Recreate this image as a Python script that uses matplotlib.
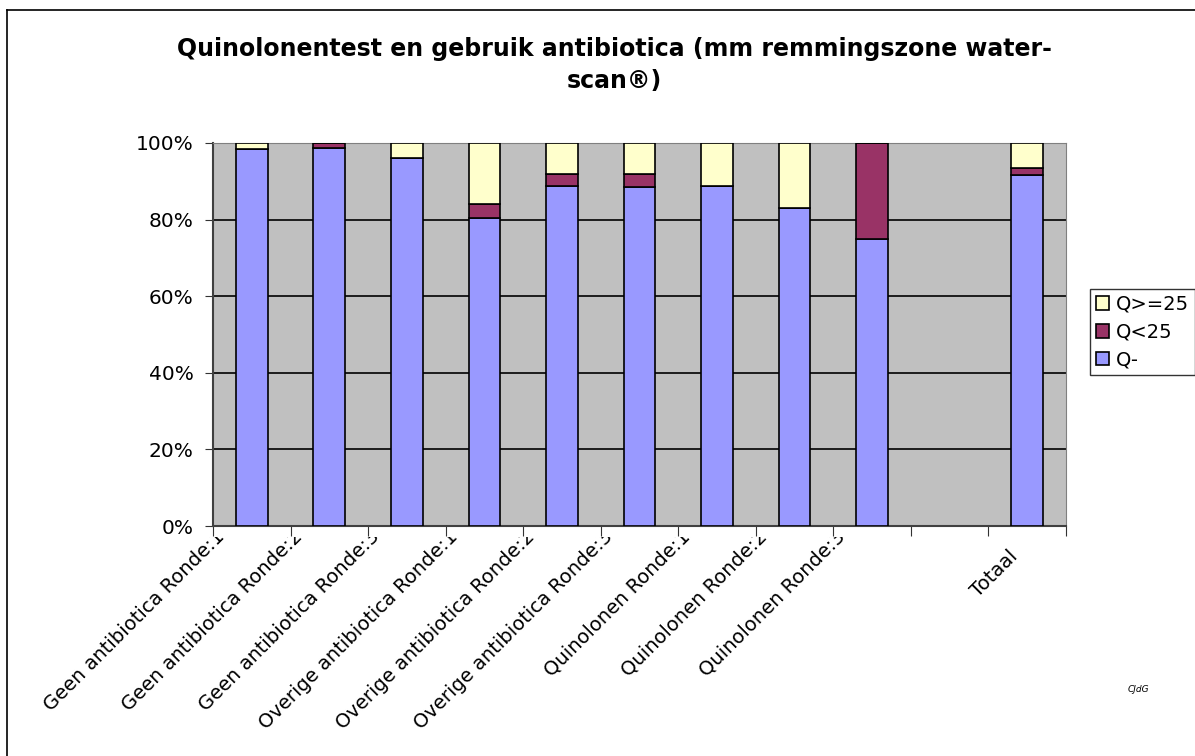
import numpy as np
import matplotlib.pyplot as plt
from matplotlib.lines import Line2D
from matplotlib.transforms import ScaledTranslation, Bbox

plt.rcParams['font.family'] = ['DejaVu Sans']

categories = ['Geen antibiotica Ronde:1', 'Geen antibiotica Ronde:2', 'Geen antibiotica Ronde:3',
              'Overige antibiotica Ronde:1', 'Overige antibiotica Ronde:2', 'Overige antibiotica Ronde:3',
              'Quinolonen Ronde:1', 'Quinolonen Ronde:2', 'Quinolonen Ronde:3', '', 'Totaal']
# percentages per category (empty slot before Totaal)
q_min = [98.4, 98.6, 96.2, 80.3, 88.8, 88.5, 88.9, 83.0, 75.0, 0, 91.6]
q_lt25 = [0.0, 1.4, 0.0, 3.8, 3.1, 3.4, 0.0, 0.0, 25.0, 0, 1.8]
q_ge25 = [1.6, 0.0, 3.8, 15.9, 8.1, 8.1, 11.1, 17.0, 0.0, 0, 6.6]

W, H = 1195, 756
fig = plt.figure(figsize=(W / 100, H / 100), dpi=100)
ax = fig.add_axes([213 / W, 1 - 526 / H, (1066 - 213) / W, (526 - 143) / H])

x = np.arange(len(categories))
w = 0.41
kw = dict(width=w, edgecolor='black', linewidth=1.2, zorder=3)
b1 = ax.bar(x, q_min, color='#9999FF', label='Q-', **kw)
b2 = ax.bar(x, q_lt25, bottom=q_min, color='#993366', label='Q<25', **kw)
bot = np.array(q_min) + np.array(q_lt25)
b3 = ax.bar(x, q_ge25, bottom=bot, color='#FFFFCC', label='Q>=25', **kw)
# empty slot
for b in (b1, b2, b3):
    b[9].set_visible(False)

ax.set_facecolor('#C0C0C0')
ax.set_xlim(-0.5, len(categories) - 0.5)
ax.set_ylim(0, 100)
ax.set_yticks(np.arange(0, 101, 20))
ax.set_yticklabels([f'{v}%' for v in range(0, 101, 20)], fontsize=14.5)
ax.tick_params(axis='y', length=6, direction='out', color='#333333', pad=8)
ax.yaxis.grid(True, color='black', linewidth=1.2, zorder=1)
ax.set_axisbelow(True)

# category boundaries get the tick marks, labels drawn separately (clipped like the original)
ax.set_xticks(np.arange(-0.5, len(categories)))
ax.set_xticklabels([])
ax.tick_params(axis='x', length=7, direction='out', color='#333333')
clip = Bbox([[0, 0], [W, H - 537]])
for i, lab in enumerate(categories):
    if not lab:
        continue
    dx, dy = (-30, -8) if len(lab) > 10 else (-12, -27)
    tr = ax.get_xaxis_transform() + ScaledTranslation(dx / 100, dy / 100, fig.dpi_scale_trans)
    t = ax.text(i, 0, lab, transform=tr, rotation=45, ha='right', va='center',
                rotation_mode='anchor', fontsize=14, clip_on=True)
    t.set_clip_box(clip)

for s in ['top', 'right']:
    ax.spines[s].set_color('#808080')
for s in ['left', 'bottom']:
    ax.spines[s].set_color('#404040')
    ax.spines[s].set_linewidth(1.5)

fig.text(614 / W, 1 - 65 / H, 'Quinolonentest en gebruik antibiotica (mm remmingszone water-\nscan®)',
         ha='center', va='center', fontsize=17, fontweight='bold', linespacing=1.45)

handles, labels = ax.get_legend_handles_labels()
leg = fig.legend(handles[::-1], labels[::-1], loc='upper left', bbox_to_anchor=(1090 / W, 1 - 289 / H),
                 fontsize=14, frameon=True, fancybox=False, edgecolor='black', handlelength=0.7,
                 handleheight=0.7, handletextpad=0.35, borderpad=0.3, labelspacing=0.45, borderaxespad=0)
leg.get_frame().set_linewidth(1.0)

fig.text(1138 / W, 1 - 690 / H, 'CJdG', fontsize=6.5, style='italic', ha='center', va='center')

# chart area border
fig.add_artist(Line2D([7 / W, 7 / W], [0, 1 - 10 / H], color='black', lw=1.2))
fig.add_artist(Line2D([7 / W, 1], [1 - 10 / H, 1 - 10 / H], color='black', lw=1.2))

fig.savefig('out.png', dpi=100)
